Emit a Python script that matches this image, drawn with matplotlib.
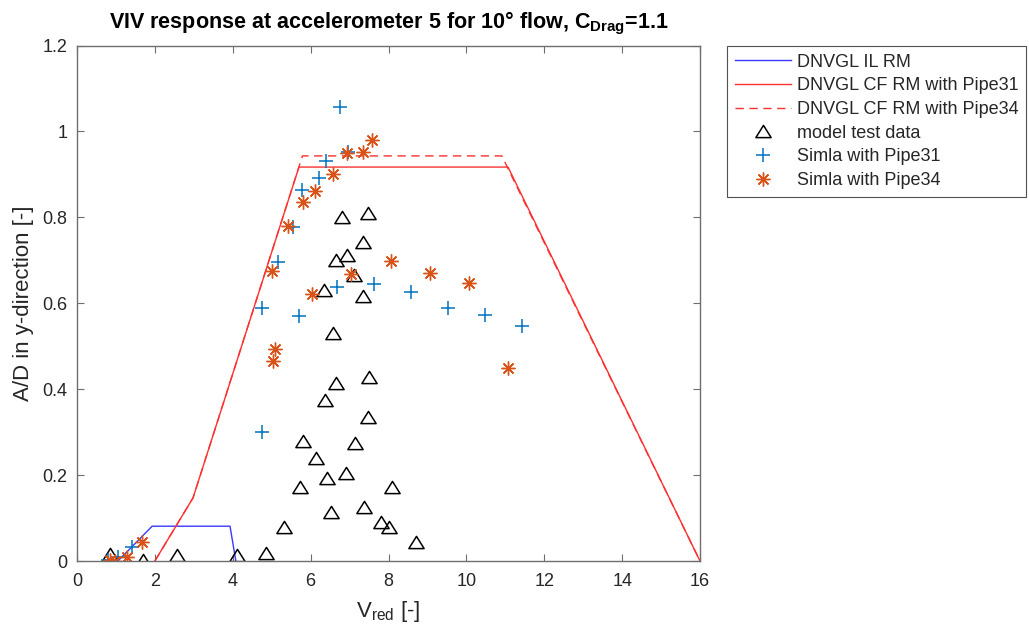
import matplotlib
matplotlib.use("Agg")
import matplotlib.pyplot as plt
from matplotlib.path import Path

plt.rcParams['font.family'] = ['Liberation Sans', 'DejaVu Sans']

# DNVGL response models (Vred, A/D)
il_vr = [1.05, 1.93, 3.93, 4.08]
il_ad = [0.0, 0.081, 0.081, 0.0]

cf31_vr = [2.0, 2.98, 5.70, 11.07, 16.0]
cf31_ad = [0.0, 0.147, 0.917, 0.917, 0.0]

cf34_vr = [2.0, 2.98, 5.79, 10.91, 16.0]
cf34_ad = [0.0, 0.147, 0.943, 0.943, 0.0]

# model test data
test_vr = [0.85, 1.69, 2.57, 4.11, 4.85, 5.32, 5.73, 5.80, 6.14, 6.37, 6.42,
           6.52, 6.57, 6.65, 6.34, 6.65, 6.93, 6.81, 7.11, 7.34, 7.34, 7.47,
           7.50, 7.47, 7.14, 6.91, 7.37, 7.81, 8.01, 8.09, 8.71]
test_ad = [0.016, 0.002, 0.014, 0.014, 0.019, 0.079, 0.172, 0.279, 0.240, 0.375, 0.193,
           0.114, 0.531, 0.414, 0.631, 0.701, 0.712, 0.801, 0.666, 0.617, 0.743, 0.810,
           0.428, 0.335, 0.275, 0.205, 0.126, 0.091, 0.079, 0.172, 0.044]

# Simla results
p31_vr = [0.80, 1.05, 1.41, 4.75, 4.75, 5.16, 5.55, 5.70, 5.78, 6.21, 6.39,
          6.68, 6.75, 6.96, 7.63, 8.58, 9.53, 10.48, 11.43]
p31_ad = [0.002, 0.010, 0.032, 0.300, 0.588, 0.695, 0.777, 0.570, 0.863, 0.891, 0.930,
          0.637, 1.056, 0.951, 0.644, 0.626, 0.588, 0.572, 0.547]

p34_vr = [0.85, 0.98, 1.28, 1.67, 5.01, 5.03, 5.08, 5.42, 5.80, 6.03, 6.11,
          6.57, 6.93, 7.04, 7.34, 7.58, 8.06, 9.07, 10.07, 11.07]
p34_ad = [0.002, 0.000, 0.010, 0.044, 0.675, 0.466, 0.493, 0.780, 0.836, 0.622, 0.861,
          0.901, 0.950, 0.668, 0.952, 0.980, 0.698, 0.670, 0.647, 0.449]

xticks = [0, 2, 4, 6, 8, 10, 12, 14, 16]
yticks = [0, 0.2, 0.4, 0.6, 0.8, 1.0, 1.2]
yticklabels = ['0', '0.2', '0.4', '0.6', '0.8', '1', '1.2']

blue_m = (0.0, 0.447, 0.741)
orange_m = (0.85, 0.325, 0.098)

# flattened triangle marker
tri = Path([(-1, -0.8), (1, -0.8), (0, 0.8), (-1, -0.8)],
           [Path.MOVETO, Path.LINETO, Path.LINETO, Path.CLOSEPOLY])

fig = plt.figure(figsize=(10.29, 6.36), dpi=100)
ax = fig.add_axes([77 / 1029, 1 - 561 / 636, 623 / 1029, 515.5 / 636])

ax.plot(il_vr, il_ad, color='#3a3aff', lw=1.0, label='DNVGL IL RM')
ax.plot(cf31_vr, cf31_ad, color='#ff3030', lw=1.0, label='DNVGL CF RM with Pipe31')
ax.plot(cf34_vr, cf34_ad, color='#ff3030', lw=1.0, ls=(0, (6, 4)),
        label='DNVGL CF RM with Pipe34')
ax.plot(test_vr, test_ad, ls='none', marker=tri, ms=11, mfc='none', mec='#000000',
        mew=1.1, label='model test data')
ax.plot(p31_vr, p31_ad, ls='none', marker='+', ms=10, mec=blue_m, mew=1.1,
        label='Simla with Pipe31')
ax.plot(p34_vr, p34_ad, ls='none', marker=(8, 2, 0), ms=10, mec=orange_m, mew=1.0,
        label='Simla with Pipe34')

ax.set_xlim(0, 16)
ax.set_ylim(0, 1.2)
ax.set_xticks(xticks)
ax.set_yticks(yticks)
ax.set_yticklabels(yticklabels)
ax.tick_params(direction='in', length=5, width=0.8, colors='#6e6e6e',
               labelcolor='#262626', labelsize=13, top=True, right=True)
ax.tick_params(axis='x', pad=9)
ax.tick_params(axis='y', pad=7)
for s in ax.spines.values():
    s.set_color('#6e6e6e')
    s.set_linewidth(1.0)

ax.set_xlabel(r'V$_{\mathregular{red}}$ [-]', fontsize=16, color='#262626', labelpad=6)
ax.set_ylabel('A/D in y-direction [-]', fontsize=16, color='#262626', labelpad=6)
ax.set_title(r'VIV response at accelerometer 5 for 10° flow, C$_{\mathregular{Drag}}$=1.1',
             fontsize=15.5, fontweight='bold', color='#000000', pad=12)

leg = ax.legend(loc='upper left', bbox_to_anchor=(727 / 1029, 1 - 46 / 636),
                bbox_transform=fig.transFigure, fontsize=13, frameon=True,
                fancybox=False, edgecolor='#262626', handlelength=3.1,
                handletextpad=0.35, labelspacing=0.37, borderpad=0.42,
                borderaxespad=0)
leg.get_frame().set_linewidth(0.8)
for t in leg.get_texts():
    t.set_color('#262626')

fig.savefig('out.png', dpi=100)
